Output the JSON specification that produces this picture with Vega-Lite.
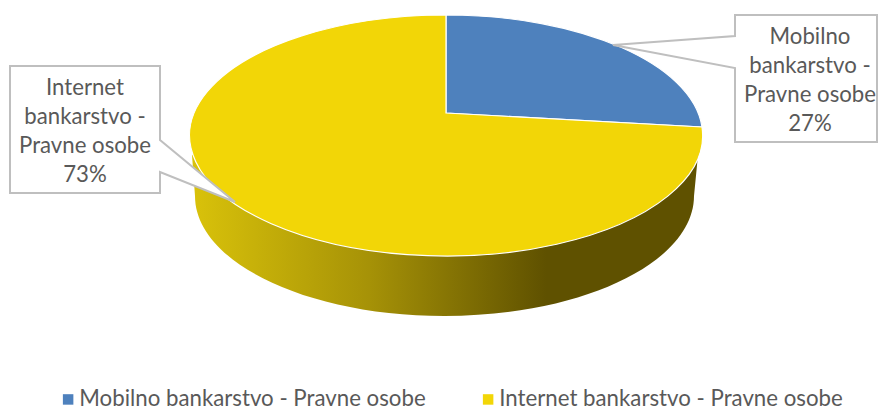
{
"$schema":"https://vega.github.io/schema/vega-lite/v6.json",
"width":880,"height":410,"padding":0,"autosize":{"type":"none"},
"background":"white",
"config":{"view":{"stroke":null}},
"data":{"values":[
{"name":"Mobilno bankarstvo - Pravne osobe","share":27,"label":"Mobilno\nbankarstvo -\nPravne osobe\n27%"},
{"name":"Internet bankarstvo - Pravne osobe","share":73,"label":"Internet\nbankarstvo -\nPravne osobe\n73%"}
]},
"layer":[
{"transform":[{"filter":"datum.share == 73"}],
 "mark":{"type":"point","filled":true,"opacity":1,"size":4,"strokeWidth":0,
  "shape":"M-248,-50 L-245,-9 A249.5,120 0 0 0 254,-9 L258,-50 Z",
  "fill":{"gradient":"linear","x1":0,"y1":0,"x2":1,"y2":0,"stops":[{"offset":0,"color":"#d9c20a"},{"offset":0.35,"color":"#a69207"},{"offset":0.7,"color":"#5f5100"},{"offset":1,"color":"#5f5100"}]}},
 "encoding":{}},
{"mark":{"type":"point","filled":true,"opacity":1,"size":4,"stroke":"white","strokeWidth":1.2},
 "encoding":{
  "color":{"field":"name","type":"nominal","sort":null,
   "scale":{"domain":["Mobilno bankarstvo - Pravne osobe","Internet bankarstvo - Pravne osobe"],"range":["#4e81bd","#f2d607"]},
   "legend":{"title":null,"orient":"none","legendX":57,"legendY":388,"direction":"horizontal","columns":2,"columnPadding":51,"symbolType":"square","symbolSize":110,"symbolStrokeWidth":0,"labelFontSize":22.25,"labelFont":"Lato","labelColor":"#595959","labelLimit":420,"labelOffset":0,"padding":0}},
  "shape":{"field":"name","type":"nominal","legend":null,
   "scale":{"domain":["Mobilno bankarstvo - Pravne osobe","Internet bankarstvo - Pravne osobe"],
    "range":["M6,-92 L6,-190 A256.5,120.5 0 0 1 262,-78 Z","M6,-92 L262,-78 A256.5,120.5 0 1 1 6,-190 Z"]}}
 }},
{"mark":{"type":"point","filled":true,"opacity":1,"size":4,"fill":"white","stroke":"#bfbfbf","strokeWidth":2},
 "encoding":{
  "shape":{"field":"name","type":"nominal","legend":null,
   "scale":{"domain":["Mobilno bankarstvo - Pravne osobe","Internet bankarstvo - Pravne osobe"],
    "range":["M295,-190 L437,-190 L437,-63 L295,-63 L295,-137 L173,-160 L295,-169 Z","M-430,-139 L-280,-139 L-280,-65 L-205,-3 L-280,-33 L-280,-12 L-430,-12 Z"]}}
 }},
{"transform":[{"filter":"datum.share == 27"}],
 "mark":{"type":"text","font":"Lato","fontSize":22.2,"color":"#595959","lineBreak":"\n","lineHeight":29,"align":"center","baseline":"middle","xOffset":370,"yOffset":-168},
 "encoding":{"text":{"field":"label"}}},
{"transform":[{"filter":"datum.share == 73"}],
 "mark":{"type":"text","font":"Lato","fontSize":22.2,"color":"#595959","lineBreak":"\n","lineHeight":29,"align":"center","baseline":"middle","xOffset":-355,"yOffset":-117},
 "encoding":{"text":{"field":"label"}}}
],
"resolve":{"scale":{"shape":"independent"}}
}
